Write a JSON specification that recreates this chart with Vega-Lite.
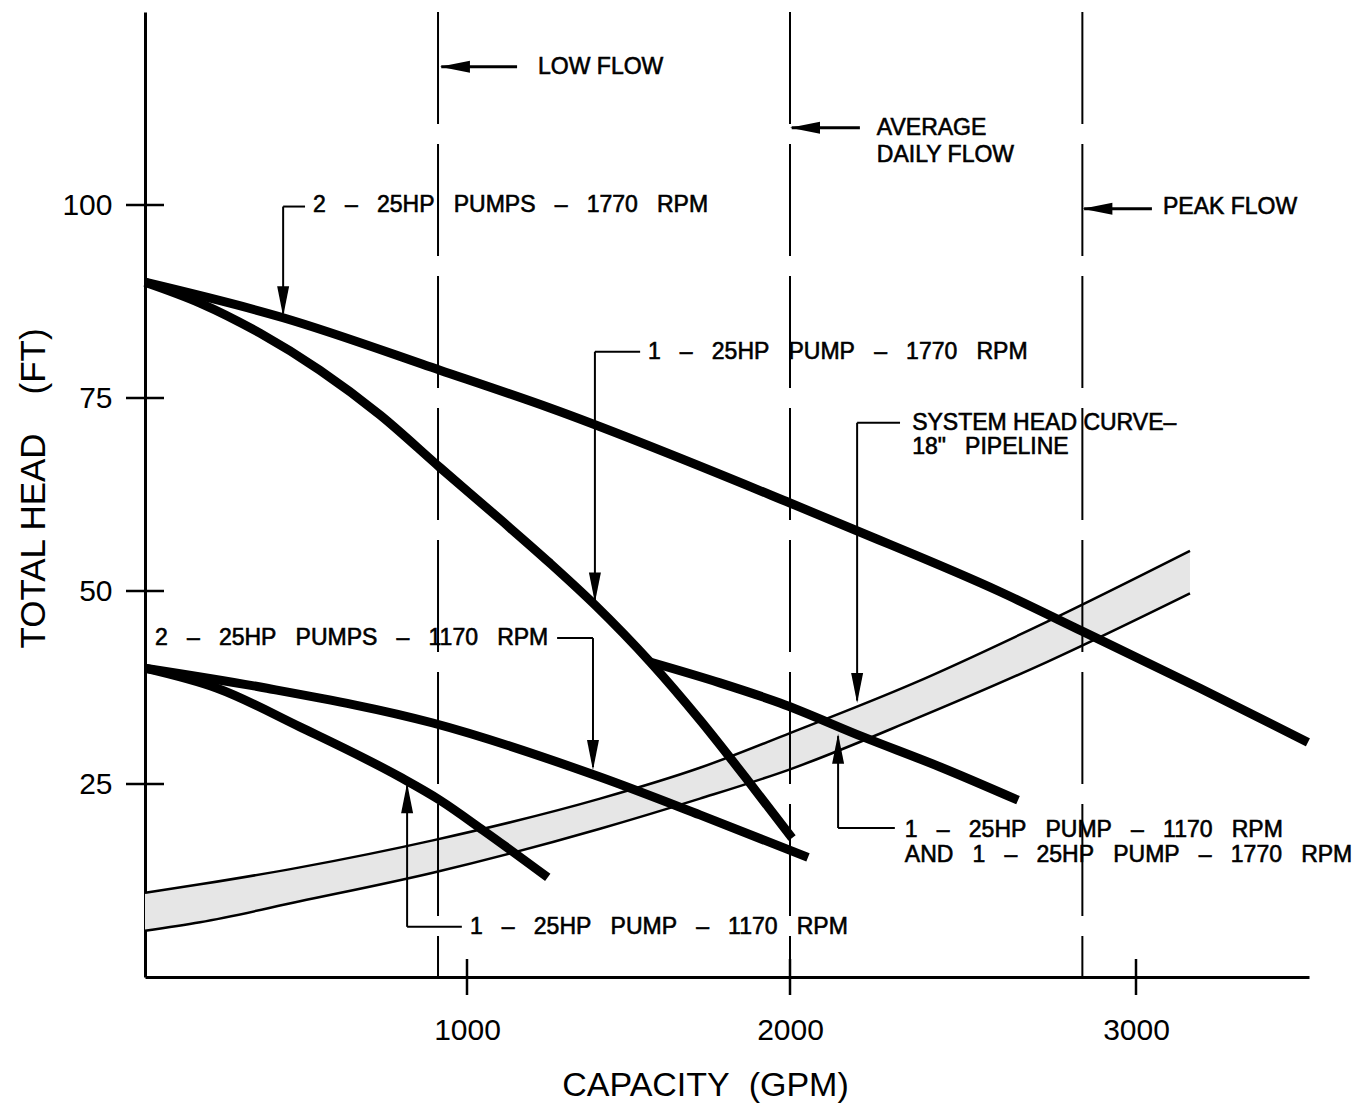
{
  "$schema": "https://vega.github.io/schema/vega-lite/v6.json",
  "width": 1164,
  "height": 965,
  "autosize": {"type": "none"},
  "padding": {"left": 145, "top": 12, "right": 55, "bottom": 135},
  "background": "white",
  "config": {"view": {"stroke": null}, "axis": {"grid": false}},
  "datasets": {
    "curves": [
      {"curve": "2 pumps 1770", "q": 0, "h": 90.0},
      {"curve": "2 pumps 1770", "q": 429, "h": 85.4},
      {"curve": "2 pumps 1770", "q": 916, "h": 78.6},
      {"curve": "2 pumps 1770", "q": 1257, "h": 73.7},
      {"curve": "2 pumps 1770", "q": 2000, "h": 61.4},
      {"curve": "2 pumps 1770", "q": 2188, "h": 57.9},
      {"curve": "2 pumps 1770", "q": 2607, "h": 49.9},
      {"curve": "2 pumps 1770", "q": 2844, "h": 44.8},
      {"curve": "2 pumps 1770", "q": 3185, "h": 37.4},
      {"curve": "2 pumps 1770", "q": 3497, "h": 30.4},
      {"curve": "1 pump 1770", "q": 0, "h": 90.0},
      {"curve": "1 pump 1770", "q": 171, "h": 87.3},
      {"curve": "1 pump 1770", "q": 357, "h": 83.4},
      {"curve": "1 pump 1770", "q": 543, "h": 78.6},
      {"curve": "1 pump 1770", "q": 730, "h": 72.8},
      {"curve": "1 pump 1770", "q": 916, "h": 66.0},
      {"curve": "1 pump 1770", "q": 1102, "h": 59.3},
      {"curve": "1 pump 1770", "q": 1257, "h": 53.6},
      {"curve": "1 pump 1770", "q": 1396, "h": 48.2},
      {"curve": "1 pump 1770", "q": 1567, "h": 40.8},
      {"curve": "1 pump 1770", "q": 1721, "h": 33.3},
      {"curve": "1 pump 1770", "q": 1876, "h": 25.1},
      {"curve": "1 pump 1770", "q": 2006, "h": 18.0},
      {"curve": "1 pump 1170 + 1 pump 1770", "q": 1567, "h": 40.8},
      {"curve": "1 pump 1170 + 1 pump 1770", "q": 1783, "h": 38.1},
      {"curve": "1 pump 1170 + 1 pump 1770", "q": 1969, "h": 35.5},
      {"curve": "1 pump 1170 + 1 pump 1770", "q": 2211, "h": 31.1},
      {"curve": "1 pump 1170 + 1 pump 1770", "q": 2434, "h": 27.2},
      {"curve": "1 pump 1170 + 1 pump 1770", "q": 2659, "h": 22.9},
      {"curve": "2 pumps 1170", "q": 0, "h": 40.0},
      {"curve": "2 pumps 1170", "q": 379, "h": 37.4},
      {"curve": "2 pumps 1170", "q": 894, "h": 32.9},
      {"curve": "2 pumps 1170", "q": 1412, "h": 25.9},
      {"curve": "2 pumps 1170", "q": 1721, "h": 21.0},
      {"curve": "2 pumps 1170", "q": 2052, "h": 15.5},
      {"curve": "1 pump 1170", "q": 0, "h": 40.0},
      {"curve": "1 pump 1170", "q": 224, "h": 37.4},
      {"curve": "1 pump 1170", "q": 481, "h": 32.4},
      {"curve": "1 pump 1170", "q": 792, "h": 25.9},
      {"curve": "1 pump 1170", "q": 916, "h": 22.9},
      {"curve": "1 pump 1170", "q": 1050, "h": 19.0},
      {"curve": "1 pump 1170", "q": 1250, "h": 12.9}
    ],
    "band": [
      {"q": 0, "hi": 10.9, "lo": 6.0},
      {"q": 171, "hi": 12.0, "lo": 7.1},
      {"q": 481, "hi": 14.2, "lo": 9.8},
      {"q": 894, "hi": 17.7, "lo": 13.5},
      {"q": 1412, "hi": 23.1, "lo": 19.2},
      {"q": 1721, "hi": 27.1, "lo": 23.1},
      {"q": 2000, "hi": 31.6, "lo": 26.9},
      {"q": 2355, "hi": 38.0, "lo": 33.3},
      {"q": 2742, "hi": 46.0, "lo": 40.8},
      {"q": 3156, "hi": 55.2, "lo": 49.7}
    ],
    "flows": [
      {"name": "LOW FLOW", "q": 910},
      {"name": "AVERAGE DAILY FLOW", "q": 2000},
      {"name": "PEAK FLOW", "q": 2845}
    ],
    "leaders": [
      {"q": 429, "h": 99.8, "q2": 497, "h2": 99.8},
      {"q": 429, "h": 99.8, "q2": 429, "h2": 86.0},
      {"q": 1396, "h": 81.0, "q2": 1536, "h2": 81.0},
      {"q": 1396, "h": 81.0, "q2": 1396, "h2": 48.8},
      {"q": 2194, "h": 71.8, "q2": 2318, "h2": 71.8},
      {"q": 2194, "h": 71.8, "q2": 2194, "h2": 35.8},
      {"q": 1279, "h": 43.9, "q2": 1390, "h2": 43.9},
      {"q": 1390, "h": 43.9, "q2": 1390, "h2": 27.2},
      {"q": 814, "h": 6.5, "q2": 984, "h2": 6.5},
      {"q": 814, "h": 6.5, "q2": 814, "h2": 24.8},
      {"q": 2139, "h": 19.3, "q2": 2303, "h2": 19.3},
      {"q": 2139, "h": 19.3, "q2": 2139, "h2": 31.2}
    ],
    "flowArrows": [
      {"q": 920, "h": 117.9, "q2": 1155, "h2": 117.9},
      {"q": 2005, "h": 110.0, "q2": 2202, "h2": 110.0},
      {"q": 2850, "h": 99.5, "q2": 3046, "h2": 99.5}
    ],
    "heads": [
      {"q": 429, "h": 85.6, "dir": "down"},
      {"q": 1396, "h": 48.5, "dir": "down"},
      {"q": 2194, "h": 35.5, "dir": "down"},
      {"q": 1390, "h": 26.8, "dir": "down"},
      {"q": 814, "h": 25.1, "dir": "up"},
      {"q": 2139, "h": 31.5, "dir": "up"},
      {"q": 916, "h": 117.9, "dir": "left"},
      {"q": 2000, "h": 110.0, "dir": "left"},
      {"q": 2845, "h": 99.5, "dir": "left"}
    ],
    "labels": [
      {"q": 1220, "h": 117.9, "label": "LOW FLOW"},
      {"q": 2251, "h": 110.0, "label": "AVERAGE"},
      {"q": 2251, "h": 106.5, "label": "DAILY FLOW"},
      {"q": 3078, "h": 99.7, "label": "PEAK FLOW"},
      {"q": 522, "h": 100.0, "label": "2\u00a0\u00a0\u00a0–\u00a0\u00a0\u00a025HP\u00a0\u00a0\u00a0PUMPS\u00a0\u00a0\u00a0–\u00a0\u00a0\u00a01770\u00a0\u00a0\u00a0RPM"},
      {"q": 1560, "h": 81.0, "label": "1\u00a0\u00a0\u00a0–\u00a0\u00a0\u00a025HP\u00a0\u00a0\u00a0PUMP\u00a0\u00a0\u00a0–\u00a0\u00a0\u00a01770\u00a0\u00a0\u00a0RPM"},
      {"q": 2353, "h": 71.8, "label": "SYSTEM HEAD CURVE–"},
      {"q": 2353, "h": 68.6, "label": "18\"\u00a0\u00a0\u00a0PIPELINE"},
      {"q": 31, "h": 43.9, "label": "2\u00a0\u00a0\u00a0–\u00a0\u00a0\u00a025HP\u00a0\u00a0\u00a0PUMPS\u00a0\u00a0\u00a0–\u00a0\u00a0\u00a01170\u00a0\u00a0\u00a0RPM"},
      {"q": 1009, "h": 6.5, "label": "1\u00a0\u00a0\u00a0–\u00a0\u00a0\u00a025HP\u00a0\u00a0\u00a0PUMP\u00a0\u00a0\u00a0–\u00a0\u00a0\u00a01170\u00a0\u00a0\u00a0RPM"},
      {"q": 2332, "h": 19.1, "label": "1\u00a0\u00a0\u00a0–\u00a0\u00a0\u00a025HP\u00a0\u00a0\u00a0PUMP\u00a0\u00a0\u00a0–\u00a0\u00a0\u00a01170\u00a0\u00a0\u00a0RPM"},
      {"q": 2332, "h": 15.8, "label": "AND\u00a0\u00a0\u00a01\u00a0\u00a0\u00a0–\u00a0\u00a0\u00a025HP\u00a0\u00a0\u00a0PUMP\u00a0\u00a0\u00a0–\u00a0\u00a0\u00a01770\u00a0\u00a0\u00a0RPM"}
    ],
    "yTicks": [
      {"q": 0, "h": 25}, {"q": 0, "h": 50}, {"q": 0, "h": 75}, {"q": 0, "h": 100}
    ],
    "xTicks": [
      {"q": 1000, "h": 0}, {"q": 2000, "h": 0}, {"q": 3000, "h": 0}
    ]
  },
  "layer": [
    {
      "data": {"name": "band"},
      "mark": {"type": "area", "color": "#e6e6e6", "interpolate": "monotone"},
      "encoding": {
        "x": {
          "field": "q", "type": "quantitative",
          "scale": {"domain": [0, 1000, 2000, 3000, 3500], "range": [0, 322, 645, 991, 1164], "zero": false, "nice": false},
          "axis": {
            "title": "CAPACITY\u00a0\u00a0(GPM)",
            "values": [1000, 2000, 3000],
            "format": "d",
            "ticks": false,
            "tickSize": 0,
            "domain": true,
            "domainColor": "black",
            "domainWidth": 3,
            "labelFont": "Liberation Sans",
            "labelFontSize": 30,
            "labelColor": "black",
            "labelPadding": 38,
            "labelBaseline": "top",
            "labelFlush": false,
            "labelOverlap": false,
            "titleFont": "Liberation Sans",
            "titleFontSize": 34,
            "titleFontWeight": "normal",
            "titleColor": "black",
            "titleX": 560,
            "titleY": 108,
            "titleAlign": "center",
            "titleBaseline": "middle"
          }
        },
        "y": {
          "field": "lo", "type": "quantitative",
          "scale": {"domain": [0, 125], "zero": false, "nice": false},
          "axis": {
            "title": "TOTAL HEAD\u00a0\u00a0\u00a0\u00a0(FT)",
            "values": [25, 50, 75, 100],
            "ticks": false,
            "tickSize": 0,
            "domain": true,
            "domainColor": "black",
            "domainWidth": 3,
            "labelFont": "Liberation Sans",
            "labelFontSize": 30,
            "labelColor": "black",
            "labelPadding": 33,
            "labelFlush": false,
            "labelOverlap": false,
            "titleFont": "Liberation Sans",
            "titleFontSize": 35,
            "titleFontWeight": "normal",
            "titleColor": "black",
            "titleAngle": -90,
            "titleX": -112,
            "titleY": 476,
            "titleAlign": "center",
            "titleBaseline": "middle"
          }
        },
        "y2": {"field": "hi"}
      }
    },
    {
      "data": {"name": "band"},
      "mark": {"type": "line", "color": "black", "strokeWidth": 2.5, "interpolate": "monotone"},
      "encoding": {
        "x": {"field": "q", "type": "quantitative", "scale": {"domain": [0, 1000, 2000, 3000, 3500], "range": [0, 322, 645, 991, 1164], "zero": false, "nice": false}},
        "y": {"field": "hi", "type": "quantitative", "scale": {"domain": [0, 125], "zero": false, "nice": false}}
      }
    },
    {
      "data": {"name": "band"},
      "mark": {"type": "line", "color": "black", "strokeWidth": 2.5, "interpolate": "monotone"},
      "encoding": {
        "x": {"field": "q", "type": "quantitative", "scale": {"domain": [0, 1000, 2000, 3000, 3500], "range": [0, 322, 645, 991, 1164], "zero": false, "nice": false}},
        "y": {"field": "lo", "type": "quantitative", "scale": {"domain": [0, 125], "zero": false, "nice": false}}
      }
    },
    {
      "data": {"name": "flows"},
      "mark": {"type": "rule", "color": "black", "strokeWidth": 2, "strokeDash": [112, 20]},
      "encoding": {
        "x": {"field": "q", "type": "quantitative", "scale": {"domain": [0, 1000, 2000, 3000, 3500], "range": [0, 322, 645, 991, 1164], "zero": false, "nice": false}}
      }
    },
    {
      "data": {"name": "curves"},
      "mark": {"type": "line", "color": "black", "strokeWidth": 9, "strokeCap": "butt", "interpolate": "monotone"},
      "encoding": {
        "x": {"field": "q", "type": "quantitative", "scale": {"domain": [0, 1000, 2000, 3000, 3500], "range": [0, 322, 645, 991, 1164], "zero": false, "nice": false}},
        "y": {"field": "h", "type": "quantitative", "scale": {"domain": [0, 125], "zero": false, "nice": false}},
        "detail": {"field": "curve", "type": "nominal"}
      }
    },
    {
      "data": {"name": "leaders"},
      "mark": {"type": "rule", "color": "black", "strokeWidth": 2},
      "encoding": {
        "x": {"field": "q", "type": "quantitative", "scale": {"domain": [0, 1000, 2000, 3000, 3500], "range": [0, 322, 645, 991, 1164], "zero": false, "nice": false}},
        "y": {"field": "h", "type": "quantitative", "scale": {"domain": [0, 125], "zero": false, "nice": false}},
        "x2": {"field": "q2"},
        "y2": {"field": "h2"}
      }
    },
    {
      "data": {"name": "flowArrows"},
      "mark": {"type": "rule", "color": "black", "strokeWidth": 3},
      "encoding": {
        "x": {"field": "q", "type": "quantitative", "scale": {"domain": [0, 1000, 2000, 3000, 3500], "range": [0, 322, 645, 991, 1164], "zero": false, "nice": false}},
        "y": {"field": "h", "type": "quantitative", "scale": {"domain": [0, 125], "zero": false, "nice": false}},
        "x2": {"field": "q2"},
        "y2": {"field": "h2"}
      }
    },
    {
      "data": {"name": "heads"},
      "mark": {"type": "point", "filled": true, "size": 900, "color": "black", "opacity": 1, "strokeWidth": 0},
      "encoding": {
        "x": {"field": "q", "type": "quantitative", "scale": {"domain": [0, 1000, 2000, 3000, 3500], "range": [0, 322, 645, 991, 1164], "zero": false, "nice": false}},
        "y": {"field": "h", "type": "quantitative", "scale": {"domain": [0, 125], "zero": false, "nice": false}},
        "shape": {
          "field": "dir", "type": "nominal",
          "scale": {"domain": ["down", "up", "left"], "range": ["M0,0L-0.4,-2L0.4,-2Z", "M0,0L-0.4,2L0.4,2Z", "M0,0L2,-0.4L2,0.4Z"]},
          "legend": null
        }
      }
    },
    {
      "data": {"name": "labels"},
      "mark": {"type": "text", "align": "left", "baseline": "middle", "font": "Liberation Sans", "fontSize": 23, "color": "black", "stroke": "black", "strokeWidth": 0.6},
      "encoding": {
        "x": {"field": "q", "type": "quantitative", "scale": {"domain": [0, 1000, 2000, 3000, 3500], "range": [0, 322, 645, 991, 1164], "zero": false, "nice": false}},
        "y": {"field": "h", "type": "quantitative", "scale": {"domain": [0, 125], "zero": false, "nice": false}},
        "text": {"field": "label", "type": "nominal"}
      }
    },
    {
      "data": {"name": "yTicks"},
      "mark": {"type": "tick", "orient": "horizontal", "size": 38, "thickness": 2.5, "color": "black", "opacity": 1},
      "encoding": {
        "x": {"field": "q", "type": "quantitative", "scale": {"domain": [0, 1000, 2000, 3000, 3500], "range": [0, 322, 645, 991, 1164], "zero": false, "nice": false}},
        "y": {"field": "h", "type": "quantitative", "scale": {"domain": [0, 125], "zero": false, "nice": false}}
      }
    },
    {
      "data": {"name": "xTicks"},
      "mark": {"type": "tick", "orient": "vertical", "size": 36, "thickness": 2.5, "color": "black", "opacity": 1},
      "encoding": {
        "x": {"field": "q", "type": "quantitative", "scale": {"domain": [0, 1000, 2000, 3000, 3500], "range": [0, 322, 645, 991, 1164], "zero": false, "nice": false}},
        "y": {"field": "h", "type": "quantitative", "scale": {"domain": [0, 125], "zero": false, "nice": false}}
      }
    }
  ]
}
